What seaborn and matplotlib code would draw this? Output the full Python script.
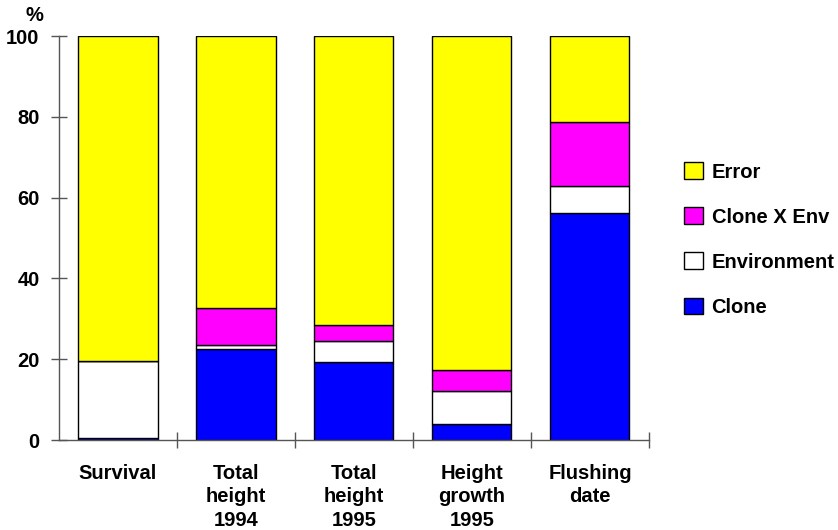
import matplotlib
matplotlib.use('Agg')
import matplotlib.pyplot as plt
import seaborn as sns
import pandas as pd
from matplotlib.patches import Patch

# variance components (%)
traits = ['Survival', 'Total\nheight\n1994', 'Total\nheight\n1995', 'Height\ngrowth\n1995', 'Flushing\ndate']
clone = [0.5, 22.5, 19.3, 4.0, 56.2]
environment = [19.1, 1.0, 5.2, 8.1, 6.7]
clone_x_env = [0.0, 9.2, 4.0, 5.2, 15.8]
error = [80.4, 67.3, 71.5, 82.7, 21.3]

components = ['Clone', 'Environment', 'Clone X Env', 'Error']
colors = ['#0000ff', '#ffffff', '#ff00ff', '#ffff00']

df = pd.DataFrame({'trait': traits, 'Clone': clone, 'Environment': environment,
                   'Clone X Env': clone_x_env, 'Error': error})

sns.set_style('white')
plt.rcParams['font.family'] = ['Liberation Sans', 'DejaVu Sans']
plt.rcParams['font.weight'] = 'bold'
plt.rcParams['text.color'] = 'black'

fs = 14.5

fig = plt.figure(figsize=(8.38, 5.3), dpi=100)
ax = fig.add_axes([0.0704, 0.1698, 0.704, 0.7622])

bottom = pd.Series([0.0] * len(traits))
for comp, col in zip(components, colors):
    sns.barplot(x='trait', y=comp, data=df, bottom=bottom, color=col,
                edgecolor='black', linewidth=1, width=0.67, saturation=1, ax=ax)
    bottom = bottom + df[comp]

ax.set_xlim(-0.5, 4.5)
ax.set_ylim(0, 100)
ax.set_yticks([0, 20, 40, 60, 80, 100])
ax.set_xlabel('')
ax.set_ylabel('')
ax.set_xticks(range(len(traits)))
ax.set_xticklabels(traits, fontsize=fs, fontweight='bold', linespacing=1.32, color='black')
ax.set_yticklabels([0, 20, 40, 60, 80, 100], fontsize=fs, fontweight='bold', color='black')
ax.set_xticks([0.5, 1.5, 2.5, 3.5, 4.5], minor=True)
ax.tick_params(axis='x', which='major', length=0, pad=17)
ax.tick_params(axis='x', which='minor', bottom=True, length=12, direction='inout', color='#555555', width=1)
ax.tick_params(axis='y', left=True, length=12, direction='inout', color='#555555', width=1, pad=8)

sns.despine(ax=ax)
for s in ['left', 'bottom']:
    ax.spines[s].set_color('#555555')
    ax.spines[s].set_linewidth(1)

fig.text(0.0406, 0.988, '%', fontsize=fs, fontweight='bold', ha='center', va='top')

handles = [Patch(facecolor=c, edgecolor='black', linewidth=1) for c in colors]
fig.legend(handles[::-1], components[::-1], loc='center left', bbox_to_anchor=(0.795, 0.548),
           frameon=False, prop={'weight': 'bold', 'size': fs},
           handlelength=0.95, handleheight=0.9, handletextpad=0.4, labelspacing=1.28)

fig.savefig('out.png', dpi=100)
